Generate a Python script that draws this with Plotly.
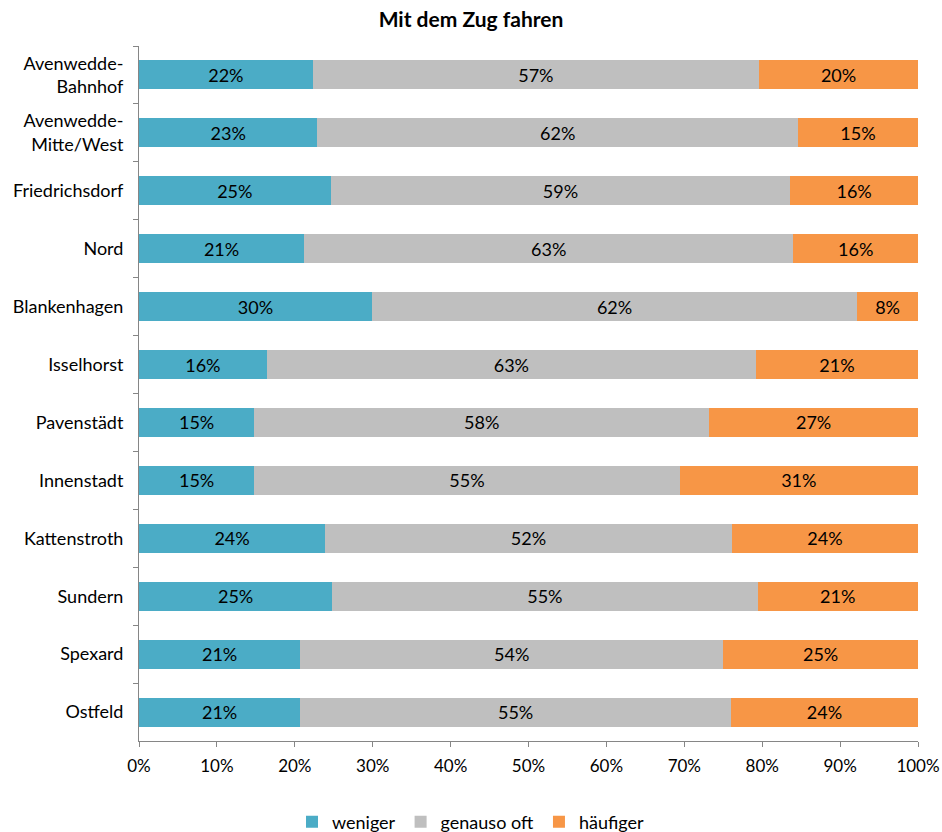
import plotly.graph_objects as go

# Ortsteile, von oben nach unten
districts = ["Avenwedde-<br>Bahnhof", "Avenwedde-<br>Mitte/West", "Friedrichsdorf", "Nord",
             "Blankenhagen", "Isselhorst", "Pavenstädt", "Innenstadt", "Kattenstroth",
             "Sundern", "Spexard", "Ostfeld"]

# Anteile in Prozent
weniger = [22.3, 22.9, 24.6, 21.2, 29.9, 16.4, 14.8, 14.8, 23.9, 24.8, 20.7, 20.7]
genauso_oft = [57.3, 61.7, 59.0, 62.8, 62.3, 62.8, 58.4, 54.6, 52.2, 54.6, 54.3, 55.3]
haeufiger = [20.4, 15.4, 16.4, 16.0, 7.8, 20.8, 26.8, 30.6, 23.9, 20.6, 25.0, 24.0]

series = [
    ("weniger", weniger, "#4BACC6"),
    ("genauso oft", genauso_oft, "#BFBFBF"),
    ("häufiger", haeufiger, "#F79646"),
]

font_family = "Lato, 'Open Sans', sans-serif"

fig = go.Figure()
for name, values, color in series:
    fig.add_trace(go.Bar(
        y=districts,
        x=values,
        name=name,
        orientation="h",
        marker=dict(color=color, line=dict(width=0)),
        texttemplate="%{x:.0f}%",
        textposition="inside",
        insidetextanchor="middle",
        textangle=0,
        textfont=dict(color="#000000", size=18, family=font_family),
        hovertemplate="%{y}: %{x:.1f}%<extra>" + name + "</extra>",
    ))

fig.update_layout(
    barmode="stack",
    bargap=0.5,
    width=942,
    height=832,
    margin=dict(l=139, r=24, t=46, b=91),
    paper_bgcolor="white",
    plot_bgcolor="white",
    font=dict(family=font_family, size=18, color="#000000"),
    title=dict(
        text="<b>Mit dem Zug fahren</b>",
        x=0.5, xanchor="center",
        y=0.976, yanchor="middle",
        font=dict(size=21, family=font_family, color="#000000"),
    ),
    legend=dict(
        orientation="h",
        xref="container",
        x=0.5, xanchor="center",
        yref="container",
        y=0.012, yanchor="middle",
        font=dict(size=18, family=font_family),
        traceorder="normal",
        itemwidth=30,
    ),
    xaxis=dict(
        range=[0, 100],
        tickvals=[0, 10, 20, 30, 40, 50, 60, 70, 80, 90, 100],
        ticktext=["0%", "10%", "20%", "30%", "40%", "50%", "60%", "70%", "80%", "90%", "100%"],
        showgrid=False,
        zeroline=False,
        showline=True,
        linecolor="#868686",
        linewidth=1,
        ticks="outside",
        ticklen=5,
        tickcolor="#868686",
        tickfont=dict(size=17),
        ticklabelstandoff=5,
        automargin=False,
        fixedrange=True,
    ),
    yaxis=dict(
        autorange="reversed",
        showgrid=False,
        showline=True,
        linecolor="#868686",
        linewidth=1,
        ticks="outside",
        tickson="boundaries",
        ticklen=5,
        tickcolor="#868686",
        tickfont=dict(size=18),
        ticklabelstandoff=11,
        automargin=False,
        fixedrange=True,
    ),
)

fig.write_html("out.html")
